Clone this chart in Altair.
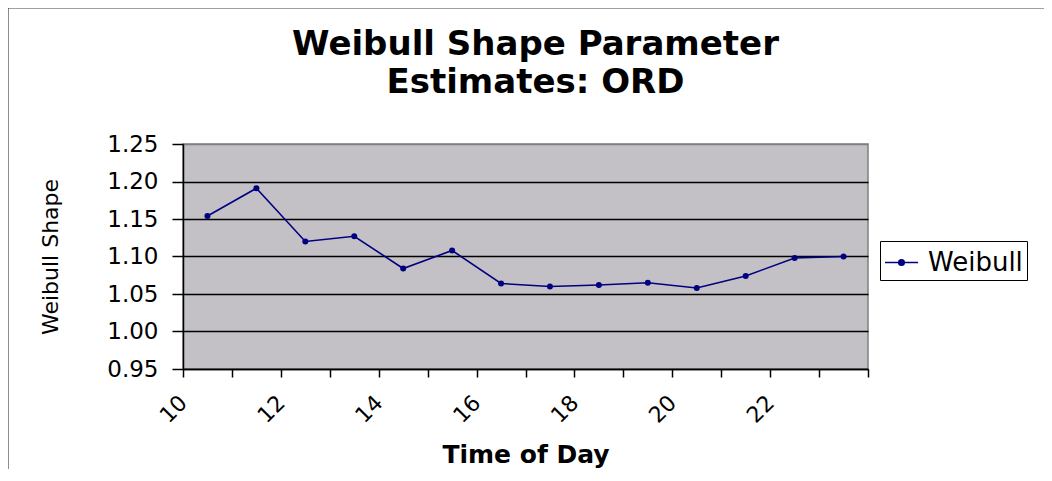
import altair as alt
import pandas as pd

# ---- data ----
hours = [10.5, 11.5, 12.5, 13.5, 14.5, 15.5, 16.5, 17.5, 18.5, 19.5, 20.5, 21.5, 22.5, 23.5]
shape = [1.154, 1.191, 1.120, 1.127, 1.084, 1.108, 1.064, 1.060, 1.062, 1.065, 1.058, 1.074, 1.098, 1.100]
series = ["Weibull"] * len(hours)
y_ticks = [0.95, 1.00, 1.05, 1.10, 1.15, 1.20, 1.25]
x_ticks = list(range(10, 25))
title_lines = ["Weibull Shape Parameter", "Estimates: ORD"]

df = pd.DataFrame({"hour": hours, "shape": shape, "series": series})

FONT = "DejaVu Sans"
NAVY = "#000080"
W, H = 685, 225
LEFT, TOP, RIGHT, BOTTOM = 175, 136, 176, 100

legend_symbol = "M-1,0L1,0M-0.17,0A0.17,0.17,0,1,1,0.17,0A0.17,0.17,0,1,1,-0.17,0Z"

x_enc = alt.X(
    "hour:Q",
    title="Time of Day",
    scale=alt.Scale(domain=[10, 24], nice=False, zero=False),
    axis=alt.Axis(
        values=x_ticks,
        tickCount=30,
        format="d",
        labelExpr="datum.value % 2 == 0 && datum.value < 24 ? datum.label : ''",
        labelAngle=315,
        labelAlign="right",
        labelBaseline="middle",
        labelOverlap=False,
        labelFlush=False,
        labelFont=FONT,
        labelFontSize=22,
        labelColor="black",
        labelPadding=22,
        tickSize=8,
        tickColor="black",
        tickWidth=1.5,
        domainColor="black",
        domainWidth=1.5,
        grid=False,
        titleFont=FONT,
        titleFontSize=25,
        titleFontWeight="bold",
        titleColor="black",
        titleX=W / 2,
        titleY=93,
        titleBaseline="alphabetic",
    ),
)

y_enc = alt.Y(
    "shape:Q",
    title="Weibull Shape",
    scale=alt.Scale(domain=[0.95, 1.25], nice=False, zero=False),
    axis=alt.Axis(
        values=y_ticks,
        tickCount=14,
        format=".2f",
        labelOverlap=False,
        labelFlush=False,
        labelFont=FONT,
        labelFontSize=23,
        labelColor="black",
        labelPadding=14,
        tickSize=11,
        tickColor="black",
        tickWidth=1.5,
        domainColor="black",
        domainWidth=1.5,
        grid=True,
        gridColor=alt.condition("datum.value >= 1.249", alt.value("#808080"), alt.value("black")),
        gridWidth=1.5,
        titleFont=FONT,
        titleFontSize=22,
        titleFontWeight="normal",
        titleColor="black",
        titleAngle=270,
        titleX=-126,
        titleY=H / 2,
        titleBaseline="alphabetic",
    ),
)

base = alt.Chart(df)

line = base.mark_line(strokeWidth=1.6).encode(
    x=x_enc,
    y=y_enc,
    color=alt.Color(
        "series:N",
        scale=alt.Scale(domain=["Weibull"], range=[NAVY]),
        legend=alt.Legend(
            title=None,
            orient="none",
            legendX=697,
            legendY=97,
            symbolType=legend_symbol,
            symbolSize=1089,
            symbolStrokeWidth=1.5,
            symbolFillColor=NAVY,
            symbolStrokeColor=NAVY,
            labelFont=FONT,
            labelFontSize=26,
            labelColor="black",
            labelOffset=9,
            strokeColor="black",
            fillColor="white",
            padding=4,
        ),
    ),
)

points = base.mark_point(filled=True, size=36, opacity=1, color=NAVY).encode(x="hour:Q", y="shape:Q")

frame_df = pd.DataFrame({"k": [0]})
frame_top = alt.Chart(frame_df).mark_rule(color="#808080", strokeWidth=1.5).encode(
    x=alt.value(-LEFT), x2=alt.value(W + RIGHT), y=alt.value(-TOP)
)
frame_left = alt.Chart(frame_df).mark_rule(color="#404040", strokeWidth=1.2).encode(
    x=alt.value(-LEFT), y=alt.value(-TOP), y2=alt.value(H + BOTTOM)
)

chart = (
    alt.layer(frame_top, frame_left, line, points)
    .properties(
        width=W,
        height=H,
        background="white",
        autosize=alt.AutoSizeParams(type="none"),
        padding={"left": LEFT, "top": TOP, "right": RIGHT, "bottom": BOTTOM},
        title=alt.Title(
            title_lines,
            font=FONT,
            fontSize=34,
            fontWeight="bold",
            color="black",
            anchor="middle",
            baseline="alphabetic",
            dx=10,
            offset=0,
            dy=120,
            lineHeight=38,
        ),
    )
    .configure_view(fill="#C3C1C5", stroke="#808080", strokeWidth=1.5)
)

chart.save("out.html", embed_options={"renderer": "svg", "actions": False})
